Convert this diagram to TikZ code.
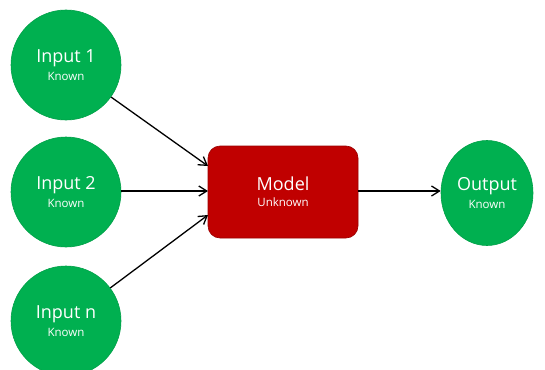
\documentclass[tikz,border=0pt]{standalone}
\usepackage{fontspec}
\setmainfont{Open Sans}
\usetikzlibrary{arrows.meta,shapes.geometric}
\definecolor{knowngreen}{HTML}{00B050}
\definecolor{knownedge}{HTML}{00A048}
\definecolor{modelred}{HTML}{C00000}
\definecolor{modeledge}{HTML}{9A0000}
\newcommand{\bigtxt}{\fontsize{18}{20}\selectfont}
\newcommand{\smalltxt}{\fontsize{11.5}{13}\selectfont}
\begin{document}
\begin{tikzpicture}[x=1pt,y=-1pt,
  inputnode/.style={circle,fill=knowngreen,draw=knownedge,line width=0.6pt,minimum size=110pt,inner sep=0pt,text=white,align=center},
  outnode/.style={ellipse,fill=knowngreen,draw=knownedge,line width=0.6pt,minimum width=92pt,minimum height=105pt,inner sep=0pt,text=white,align=center},
  modelnode/.style={rectangle,rounded corners=12pt,fill=modelred,draw=modeledge,line width=0.6pt,minimum width=150pt,minimum height=92pt,inner sep=0pt,text=white,align=center},
  conn/.style={-{Straight Barb[length=8pt,width=10pt]},line width=1.3pt,black}]
\useasboundingbox (0,0) rectangle (545,369);
\node[inputnode] (i1) at (66,65) {{\bigtxt Input 1}\\[4pt]{\smalltxt Known}};
\node[inputnode] (i2) at (66,192) {{\bigtxt Input 2}\\[4pt]{\smalltxt Known}};
\node[inputnode] (in) at (66,321) {{\bigtxt Input n}\\[4pt]{\smalltxt Known}};
\node[modelnode] (m) at (283,192) {{\bigtxt Model}\\[4pt]{\smalltxt Unknown}};
\node[outnode] (o) at (487,193) {{\bigtxt Output}\\[4pt]{\smalltxt Known}};
\coordinate (m1) at (208,166);
\coordinate (m2) at (208,191);
\coordinate (mn) at (208,215);
\draw[conn] (i1) -- (m1);
\draw[conn] (i2.east |- m2) -- (m2);
\draw[conn] (in) -- (mn);
\draw[conn] (m.east |- m2) -- (o.west |- m2);
\end{tikzpicture}
\end{document}
